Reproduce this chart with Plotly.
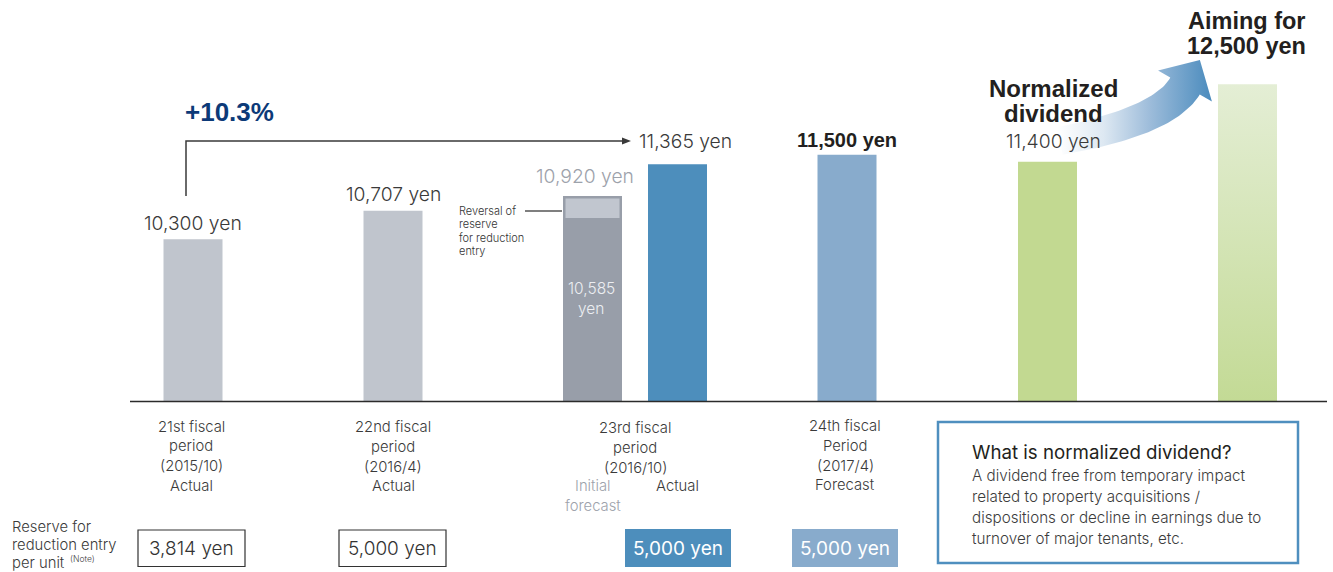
import numpy as np
import plotly.graph_objects as go

# ---------------- data ----------------
bar_labels = ["21st", "22nd", "23rd initial forecast", "23rd actual", "24th forecast",
              "Normalized dividend", "Aim"]
dividends = [10300, 10707, 10920, 11365, 11500, 11400, 12500]
initial_core = 10585          # 23rd initial forecast excluding reversal of reserve
value_text = ["10,300 yen", "10,707 yen", "10,920 yen", "11,365 yen", "11,500 yen", "11,400 yen"]
growth_text = "+10.3%"
reserve_text = ["3,814 yen", "5,000 yen", "5,000 yen", "5,000 yen"]
period_lines = [
    ["21st fiscal", "period", "(2015/10)", "Actual"],
    ["22nd fiscal", "period", "(2016/4)", "Actual"],
    ["23rd fiscal", "period", "(2016/10)"],
    ["24th fiscal", "Period", "(2017/4)", "Forecast"],
]

# ---------------- layout constants ----------------
W, H = 1333, 572
BASE = 8000
PX_PER_YEN = 0.0705
BASELINE = 401.5
YMIN = BASE - (H - BASELINE) / PX_PER_YEN
YMAX = BASE + BASELINE / PX_PER_YEN
BAR_X = [193, 393, 592.5, 677.5, 847, 1047.5, 1247.5]
BAR_W = 59

FONT = "Inter, Roboto, 'Liberation Sans', Arial, sans-serif"
LW = 300
BOLD = "'Liberation Sans', Arial, sans-serif"
DARK = "#3a3a3a"
GREYTXT = "#9da2ab"

C_LIGHT = "#c0c5cd"
C_GREY = "#989ea9"
C_REV = "#c1c6cf"
C_ACT = "#4d8ebc"
C_FC = "#88abcc"
C_GREEN = "#c2d991"

fig = go.Figure()

# main bars (21st, 22nd, 23rd actual, 24th, normalized)
idx = [0, 1, 3, 4, 5]
fig.add_trace(go.Bar(
    x=[BAR_X[i] for i in idx],
    y=[dividends[i] - BASE for i in idx],
    base=BASE, width=BAR_W,
    marker=dict(color=[C_LIGHT, C_LIGHT, C_ACT, C_FC, C_GREEN], line=dict(width=0)),
    hoverinfo="skip", showlegend=False))

# 23rd initial forecast: core + reversal of reserve
fig.add_trace(go.Bar(
    x=[BAR_X[2]], y=[initial_core - BASE], base=BASE, width=BAR_W,
    marker=dict(color=C_GREY, line=dict(width=0)), hoverinfo="skip", showlegend=False))
fig.add_trace(go.Bar(
    x=[BAR_X[2]], y=[dividends[2] - initial_core - 1.5 / PX_PER_YEN], base=initial_core,
    width=BAR_W - 2.5,
    marker=dict(color=C_REV, line=dict(color=C_GREY, width=2.5)),
    hoverinfo="skip", showlegend=False))

# aim bar with vertical gradient
c, v = BAR_X[6], dividends[6]
fig.add_trace(go.Scatter(
    x=[c - BAR_W / 2, c + BAR_W / 2, c + BAR_W / 2, c - BAR_W / 2, c - BAR_W / 2],
    y=[BASE, BASE, v, v, BASE],
    mode="lines", line=dict(width=0), fill="toself",
    fillgradient=dict(type="vertical", colorscale=[[0, "#c3da95"], [1, "#e4eed5"]]),
    hoverinfo="skip", showlegend=False))

# curved gradient arrow (pixel coordinates on y2)
P0 = np.array([1060.0, 141.0]); P1 = np.array([1165.0, 121.0]); P2 = np.array([1185.0, 86.0])
t = np.linspace(0, 1, 40)[:, None]
B = (1 - t) ** 2 * P0 + 2 * (1 - t) * t * P1 + t ** 2 * P2
dB = 2 * (1 - t) * (P1 - P0) + 2 * t * (P2 - P1)
dB = dB / np.linalg.norm(dB, axis=1, keepdims=True)
nrm = np.column_stack([dB[:, 1], -dB[:, 0]])
hw = (14 + 3 * t)
upper = B + hw * nrm
lower = B - hw * nrm
te, ne = dB[-1], nrm[-1]
left_barb = P2 + 31 * ne
right_barb = P2 - 31 * ne
tip = P2 + 30 * te
poly = np.vstack([upper, left_barb, tip, right_barb, lower[::-1], upper[:1]])
fig.add_trace(go.Scatter(
    x=poly[:, 0], y=poly[:, 1], yaxis="y2",
    mode="lines", line=dict(width=0), fill="toself",
    fillgradient=dict(type="horizontal",
                      colorscale=[[0, "#ffffff"], [0.3, "#dde8f2"], [0.6, "#9dbcda"], [1, "#4a8bbd"]]),
    hoverinfo="skip", showlegend=False))

shapes = []
ann = []


def text(x, y, s, size=14, color=DARK, family=FONT, xanchor="center", weight=LW, yref="y2", **kw):
    f = dict(size=size, color=color, family=family, weight=weight)
    ann.append(dict(x=x, y=y, xref="x", yref=yref, text=s, showarrow=False,
                    xanchor=xanchor, yanchor="middle", font=f, **kw))


# baseline
shapes.append(dict(type="line", xref="x", yref="y2", x0=130, x1=1327, y0=BASELINE, y1=BASELINE,
                   line=dict(color="#2b2b2b", width=1.6)))

# value labels above bars
lab_dx = [0, 0, -8, 0, 0, 6]
lab_dy = [16, 17, 20, 23, 15, 21]
lab_col = [DARK, DARK, GREYTXT, DARK, "#231f20", DARK]
for i in range(6):
    bold = i == 4
    xx = BAR_X[i] + lab_dx[i]
    if i == 3:
        xx = 685
    ann.append(dict(x=xx, y=dividends[i], xref="x", yref="y",
                    text=value_text[i], showarrow=False, yanchor="middle", xanchor="center",
                    yshift=lab_dy[i],
                    font=dict(size=20 if bold else 19.3, color=lab_col[i],
                              family=BOLD if bold else FONT,
                              weight=700 if bold else LW)))

# growth bracket arrow
shapes.append(dict(type="path", xref="x", yref="y2", path="M186,196 L186,141 L624,141",
                   line=dict(color="#3a3a3a", width=1.5)))
shapes.append(dict(type="path", xref="x", yref="y2", path="M622,137.5 L631,141 L622,144.5 Z",
                   fillcolor="#3a3a3a", line=dict(width=0)))
text(183, 112, growth_text, size=26, color="#0c3a78", family=BOLD, xanchor="left", weight=700)

# reversal of reserve note
for k, s in enumerate(["Reversal of", "reserve", "for reduction", "entry"]):
    text(457, 211 + 13.3 * k, s, size=11, xanchor="left", color="#333333")
shapes.append(dict(type="line", xref="x", yref="y2", x0=525, x1=562, y0=211, y1=211,
                   line=dict(color="#555555", width=1.3)))
text(591, 288, "10,585", size=15.5, color="#eceef2")
text(591, 308, "yen", size=15.5, color="#eceef2")

# normalized dividend / aim titles
text(1053, 88, "Normalized", size=24, color="#231f20", family=BOLD, weight=700)
text(1053, 113, "dividend", size=24, color="#231f20", family=BOLD, weight=700)
text(1247, 21, "Aiming for", size=23.5, color="#231f20", family=BOLD, weight=700)
text(1246, 46, "12,500 yen", size=23.5, color="#231f20", family=BOLD, weight=700)

# period labels
pc = [191, 393, 635, 845]
py0 = [426.5, 427, 428, 426]
for j, lines in enumerate(period_lines):
    for k, s in enumerate(lines):
        text(pc[j], py0[j] + 19.8 * k, s, size=14.8)
text(593, 486, "Initial", size=14.8, color=GREYTXT)
text(593, 506, "forecast", size=14.8, color=GREYTXT)
text(677, 486, "Actual", size=14.8)

# reserve row
text(10, 527, "Reserve for", size=14.8, xanchor="left")
text(10, 545, "reduction entry", size=14.8, xanchor="left")
text(10, 563, "per unit", size=14.8, xanchor="left")
text(68, 559, "(Note)", size=8.5, xanchor="left")
boxes = [(138, 245), (339, 446), (625, 731), (792, 898)]
fills = [None, None, C_ACT, C_FC]
for (x0, x1), f, s in zip(boxes, fills, reserve_text):
    if f is None:
        shapes.append(dict(type="rect", xref="x", yref="y2", x0=x0, x1=x1, y0=530, y1=566.5,
                           line=dict(color="#333333", width=1.2), fillcolor="rgba(0,0,0,0)"))
        text((x0 + x1) / 2, 548.5, s, size=19, color="#333333")
    else:
        shapes.append(dict(type="rect", xref="x", yref="y2", x0=x0, x1=x1, y0=529, y1=567,
                           line=dict(width=0), fillcolor=f))
        text((x0 + x1) / 2, 548, s, size=19, color="#ffffff", weight=400)

# info box
shapes.append(dict(type="rect", xref="x", yref="y2", x0=938, x1=1298, y0=422, y1=563,
                   line=dict(color="#4f8fbf", width=2.5), fillcolor="rgba(0,0,0,0)"))
text(970, 452, "What is normalized dividend?", size=18.7, color="#231f20", xanchor="left", weight=400)
for k, s in enumerate(["A dividend free from temporary impact",
                       "related to property acquisitions /",
                       "dispositions or decline in earnings due to",
                       "turnover of major tenants, etc."]):
    text(970, 475 + 21.2 * k, s, size=15.2, color="#3c3c3c", xanchor="left")

fig.update_layout(
    width=W, height=H, margin=dict(l=0, r=0, t=0, b=0),
    paper_bgcolor="white", plot_bgcolor="white",
    barmode="overlay", showlegend=False,
    xaxis=dict(range=[0, W], visible=False, fixedrange=True),
    yaxis=dict(range=[YMIN, YMAX], visible=False, fixedrange=True),
    yaxis2=dict(range=[H, 0], visible=False, overlaying="y", fixedrange=True),
    shapes=shapes, annotations=ann,
)

fig.write_html("out.html")
